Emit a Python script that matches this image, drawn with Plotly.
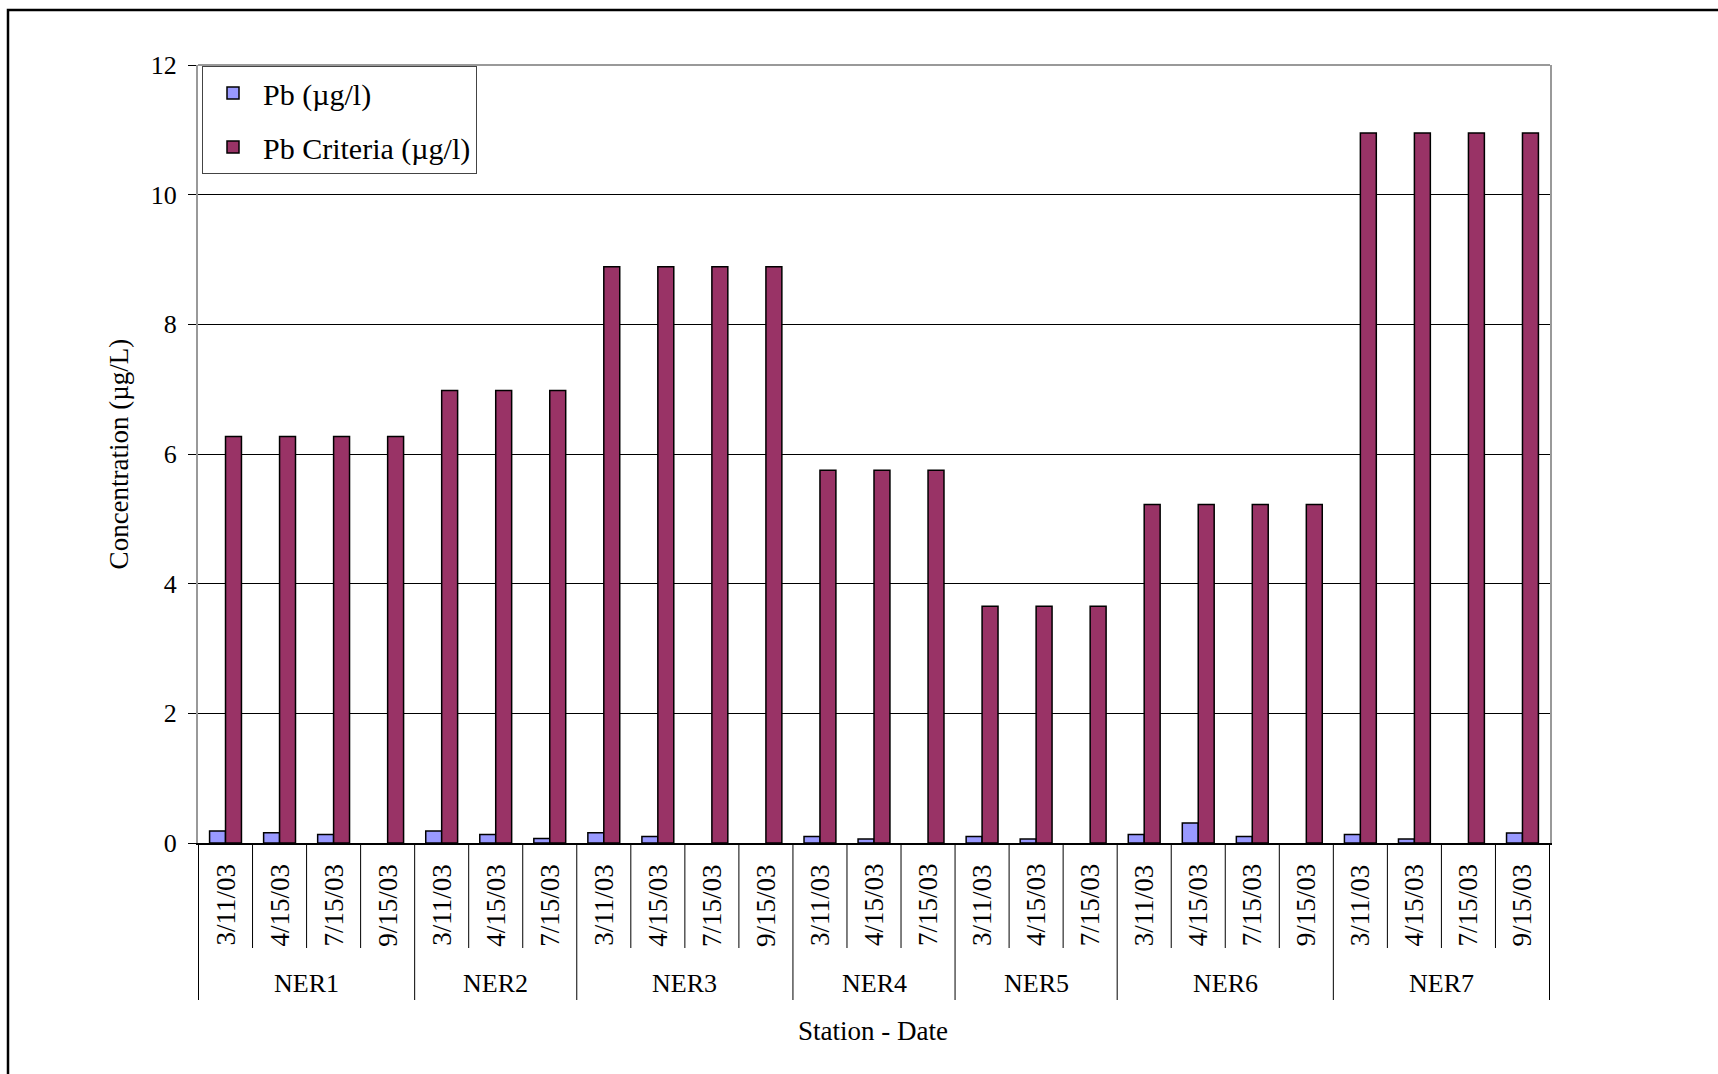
import plotly.graph_objects as go

# ---- data ----
stations = ["NER1", "NER1", "NER1", "NER1",
            "NER2", "NER2", "NER2",
            "NER3", "NER3", "NER3", "NER3",
            "NER4", "NER4", "NER4",
            "NER5", "NER5", "NER5",
            "NER6", "NER6", "NER6", "NER6",
            "NER7", "NER7", "NER7", "NER7"]
dates = ["3/11/03", "4/15/03", "7/15/03", "9/15/03",
         "3/11/03", "4/15/03", "7/15/03",
         "3/11/03", "4/15/03", "7/15/03", "9/15/03",
         "3/11/03", "4/15/03", "7/15/03",
         "3/11/03", "4/15/03", "7/15/03",
         "3/11/03", "4/15/03", "7/15/03", "9/15/03",
         "3/11/03", "4/15/03", "7/15/03", "9/15/03"]
pb = [0.185, 0.16, 0.13, None,
      0.185, 0.13, 0.07,
      0.16, 0.10, None, None,
      0.10, 0.06, None,
      0.10, 0.06, None,
      0.13, 0.31, 0.10, None,
      0.13, 0.06, None, 0.155]
pb_criteria = [6.27, 6.27, 6.27, 6.27,
               6.98, 6.98, 6.98,
               8.89, 8.89, 8.89, 8.89,
               5.75, 5.75, 5.75,
               3.65, 3.65, 3.65,
               5.22, 5.22, 5.22, 5.22,
               10.95, 10.95, 10.95, 10.95]
y_ticks = [0, 2, 4, 6, 8, 10, 12]

FONT = "Liberation Serif, Times New Roman, serif"
W, H = 1718, 1074
L, R, T, B = 198, 1550, 65, 843   # plot area in pixels


def py(pix):  # pixel y -> paper y
    return (B - pix) / (B - T)


def px(pix):  # pixel x -> paper x
    return (pix - L) / (R - L)


cats = [f"{s} {d}" for s, d in zip(stations, dates)]

fig = go.Figure()
fig.add_trace(go.Bar(
    x=cats, y=pb, name="Pb (µg/l)", legendgroup="a",
    marker=dict(color="#9999FF", line=dict(color="black", width=1.5)),
))
fig.add_trace(go.Bar(
    x=cats, y=pb_criteria, name="Pb Criteria (µg/l)", legendgroup="b",
    marker=dict(color="#993366", line=dict(color="black", width=1.5)),
))

shapes = []
annotations = []

# outer border
shapes.append(dict(type="rect", xref="paper", yref="paper",
                   x0=px(8), x1=px(1740), y0=py(1100), y1=py(10),
                   line=dict(color="black", width=2.5), layer="below"))
# top edge of plot area (gray)
shapes.append(dict(type="line", xref="paper", yref="paper",
                   x0=0, x1=1, y0=1, y1=1,
                   line=dict(color="#999999", width=2), layer="above"))

# category boundary lines and group lines
n = len(cats)
group_starts = [i for i in range(n) if i == 0 or stations[i] != stations[i - 1]]
for i in range(n + 1):
    is_group = (i in group_starts) or i == n
    shapes.append(dict(type="line", xref="x", yref="paper",
                       x0=i - 0.5, x1=i - 0.5, y0=0,
                       y1=py(1000) if is_group else py(948),
                       line=dict(color="black", width=1)))

# date labels
for c, d in zip(cats, dates):
    annotations.append(dict(x=c, xref="x", y=py(905), yref="paper",
                            xanchor="center", yanchor="middle",
                            text=d, showarrow=False, textangle=-90,
                            font=dict(family=FONT, size=27, color="black")))

# station labels
bounds = group_starts + [n]
for k in range(len(group_starts)):
    a, b = bounds[k], bounds[k + 1]
    annotations.append(dict(x=(a + b - 1) / 2, xref="x", y=py(983), yref="paper",
                            xanchor="center", yanchor="middle",
                            text=stations[a], showarrow=False,
                            font=dict(family=FONT, size=26, color="black")))

# x axis title
annotations.append(dict(x=px(873), xref="paper", y=py(1031), yref="paper",
                        xanchor="center", yanchor="middle",
                        text="Station - Date", showarrow=False,
                        font=dict(family=FONT, size=27, color="black")))

fig.update_layout(
    width=W, height=H,
    margin=dict(l=L, r=W - R, t=T, b=H - B, autoexpand=False),
    paper_bgcolor="white", plot_bgcolor="white",
    font=dict(family=FONT, color="black"),
    barmode="group", bargap=0.41, bargroupgap=0,
    showlegend=True,
    legend=dict(x=px(202), y=py(66), xanchor="left", yanchor="top",
                bgcolor="white", bordercolor="#444444", borderwidth=1,
                font=dict(family=FONT, size=30, color="black"),
                itemwidth=50,
                tracegroupgap=12, traceorder="grouped"),
    shapes=shapes, annotations=annotations,
    xaxis=dict(type="category", showticklabels=False, ticks="",
               showline=True, linecolor="black", linewidth=1.5,
               showgrid=False, zeroline=False, fixedrange=True),
    yaxis=dict(range=[0, 12], tickvals=y_ticks, ticks="outside", ticklen=8,
               tickcolor="black", tickwidth=1,
               tickfont=dict(family=FONT, size=26, color="black"),
               ticklabelstandoff=6,
               showline=True, linecolor="#999999", linewidth=2, mirror=True,
               showgrid=True, gridcolor="black", gridwidth=1,
               zeroline=False,
               title=dict(text="Concentration (µg/L)", standoff=14,
                          font=dict(family=FONT, size=27, color="black"))),
)

fig.write_html("out.html")
